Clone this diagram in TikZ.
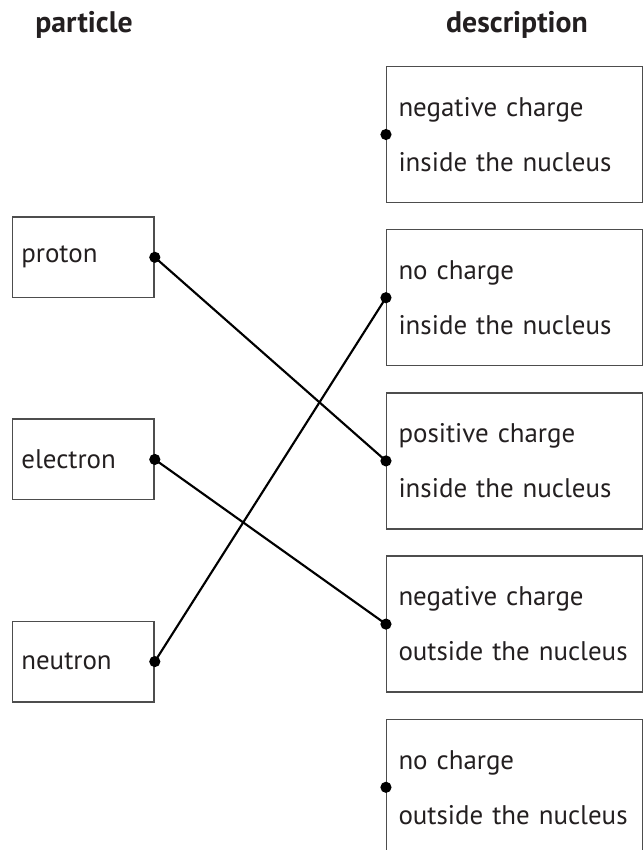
\documentclass[tikz,border=0pt]{standalone}
\usepackage{fontspec}
\setmainfont{PT Sans}
\usepackage{tikz}
\usetikzlibrary{positioning}
\definecolor{boxgray}{HTML}{4D4D4D}
\definecolor{inkblack}{HTML}{231F20}

\begin{document}
\begin{tikzpicture}[x=0.75pt, y=-0.75pt,
  every node/.style={font=\fontsize{20.2}{41.25}\selectfont, text=inkblack},
  headtext/.style={font=\bfseries\fontsize{22.3}{26}\selectfont},
  particlebox/.style={draw=boxgray, line width=1.1pt, minimum width=106.3pt, minimum height=60.4pt, text width=92.8pt, inner xsep=6.75pt, align=left},
  descbox/.style={draw=boxgray, line width=1.1pt, minimum width=191.7pt, minimum height=102pt, text width=174pt, inner xsep=8.85pt, align=left},
  link/.style={line width=1.6pt, black}]
  \useasboundingbox (0,0) rectangle (643,850);

  \node[headtext] (parthead) at (84,25) {particle};
  \node[headtext] (deschead) at (517,25) {description};

  \node[particlebox] (proton) at (83.2,257.3) {proton};
  \node[particlebox, below=90.1pt of proton] (electron) {electron};
  \node[particlebox, below=90.1pt of electron] (neutron) {neutron};

  \node[descbox] (neginside) at (514.5,134.5) {negative charge\\inside the nucleus};
  \node[descbox, below=19.3pt of neginside] (noinside) {no charge\\inside the nucleus};
  \node[descbox, below=19.3pt of noinside] (posinside) {positive charge\\inside the nucleus};
  \node[descbox, below=19.3pt of posinside] (negoutside) {negative charge\\outside the nucleus};
  \node[descbox, below=19.3pt of negoutside] (nooutside) {no charge\\outside the nucleus};

  \draw[link] (proton.east) -- (posinside.west);
  \draw[link] (electron.east) -- (negoutside.west);
  \draw[link] (neutron.east) -- (noinside.west);

  \fill (proton.east) circle (4.2pt);
  \fill (electron.east) circle (4.2pt);
  \fill (neutron.east) circle (4.2pt);
  \fill (neginside.west) circle (4.2pt);
  \fill (noinside.west) circle (4.2pt);
  \fill (posinside.west) circle (4.2pt);
  \fill (negoutside.west) circle (4.2pt);
  \fill (nooutside.west) circle (4.2pt);
\end{tikzpicture}
\end{document}
